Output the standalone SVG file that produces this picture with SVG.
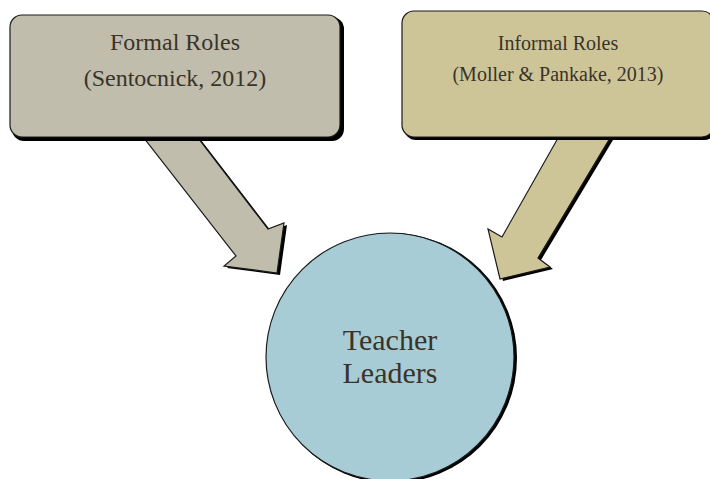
<svg xmlns="http://www.w3.org/2000/svg" width="710" height="479" viewBox="0 0 710 479">
<style>
.sh{fill:#000}
.edge{stroke:#1a1a1a;stroke-width:1.2}
.gray{fill:#c0bdad}
.tan{fill:#cdc598}
.blue{fill:#a8ccd6}
text{font-family:"Liberation Serif","Times New Roman",serif;fill:#3a3328;text-anchor:middle}
</style>
<rect width="710" height="479" fill="#fff"/>
<g id="connectors">
<g id="arrow-left">
<polygon class="sh" transform="translate(3,2)" points="144,138 198,138 268,229 284,223 277,273 224,266 236,256"/>
<polygon class="gray edge" points="144,138 198,138 268,229 284,223 277,273 224,266 236,256"/>
</g>
<g id="arrow-right">
<polygon class="sh" transform="translate(3,2)" points="558,138 610,138 538,258 550,267 500,279 488,229 502,237"/>
<polygon class="tan edge" points="558,138 610,138 538,258 550,267 500,279 488,229 502,237"/>
</g>
</g>
<g id="formal">
<rect class="sh" x="12" y="17" width="332" height="124" rx="12"/>
<rect class="gray edge" x="10" y="15" width="330" height="122" rx="12"/>
<text x="175" y="50" font-size="24">Formal Roles</text>
<text x="175" y="86" font-size="24">(Sentocnick, 2012)</text>
</g>
<g id="informal">
<rect class="sh" x="404" y="13" width="312" height="127" rx="12"/>
<rect class="tan edge" x="402" y="11" width="312" height="126" rx="12"/>
<text x="558" y="50" font-size="20">Informal Roles</text>
<text x="558" y="81" font-size="20">(Moller &amp; Pankake, 2013)</text>
</g>
<g id="teacher">
<circle class="sh" cx="392" cy="358" r="125"/>
<circle class="blue edge" cx="390" cy="357" r="124"/>
<text x="390" y="350" font-size="30">Teacher</text>
<text x="390" y="383" font-size="30">Leaders</text>
</g>
</svg>
